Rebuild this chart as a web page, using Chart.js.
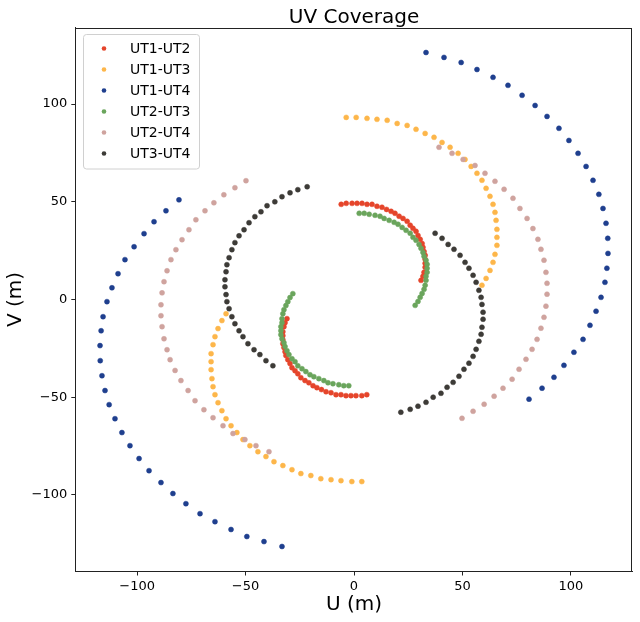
<!DOCTYPE html>
<html>
<head>
<meta charset="utf-8">
<script src="https://cdn.jsdelivr.net/npm/chart.js@4.4.0/dist/chart.umd.min.js"></script>
<style>
html,body{margin:0;padding:0;background:#fff;}
#wrap{width:640px;height:622px;}
</style>
</head>
<body>
<div id="wrap"><canvas id="c" width="640" height="622"></canvas></div>
<script>
const baselines = ['UT1-UT2','UT1-UT3','UT1-UT4','UT2-UT3','UT2-UT4','UT3-UT4'];
const colors = ['#e5452b','#fdb64a','#1f3f8e','#6aa55c','#cfa39e','#3d3b37'];

const u12 = [-5.9,-3.6,-0.9,1.4,3.7,6.0,8.3,10.6,12.9,15.0,17.1,18.9,20.8,22.6,24.5,25.9,27.2,28.6,29.5,30.5,31.4,31.8,32.3,32.8,32.8,32.8,32.8,32.3,31.8,30.9,
  5.9,3.6,0.9,-1.4,-3.7,-6.0,-8.3,-10.6,-12.9,-15.0,-17.1,-18.9,-20.8,-22.6,-24.5,-25.9,-27.2,-28.6,-29.5,-30.5,-31.4,-31.8,-32.3,-32.8,-32.8,-32.8,-32.8,-32.3,-31.8,-30.9];
const v12 = [48.7,49.2,49.2,49.2,49.2,48.7,48.7,47.7,47.2,46.1,45.1,44.1,42.6,41.5,40.0,38.0,36.4,34.9,32.8,30.8,28.7,26.7,24.6,22.6,20.6,18.5,16.5,13.9,11.9,9.8,
  -48.7,-49.2,-49.2,-49.2,-49.2,-48.7,-48.7,-47.7,-47.2,-46.1,-45.1,-44.1,-42.6,-41.5,-40.0,-38.0,-36.4,-34.9,-32.8,-30.8,-28.7,-26.7,-24.6,-22.6,-20.6,-18.5,-16.5,-13.9,-11.9,-9.8];

const u13 = [-3.6,1.0,6.0,10.6,15.3,19.9,24.5,28.6,32.8,36.9,40.6,44.3,48.0,51.2,54.0,56.7,59.0,60.9,62.7,64.1,65.0,65.5,65.9,65.9,65.9,65.0,64.1,62.7,60.9,59.0,
  3.6,-1.0,-6.0,-10.6,-15.3,-19.9,-24.5,-28.6,-32.8,-36.9,-40.6,-44.3,-48.0,-51.2,-54.0,-56.7,-59.0,-60.9,-62.7,-64.1,-65.0,-65.5,-65.9,-65.9,-65.9,-65.0,-64.1,-62.7,-60.9,-59.0];
const v13 = [93.2,93.2,92.7,92.2,91.7,90.1,89.1,87.1,85.0,83.0,80.4,77.9,74.8,71.7,68.1,64.6,61.0,56.9,52.8,48.7,44.6,40.5,35.9,31.8,27.7,23.1,19.0,14.9,10.8,7.3,
  -93.2,-93.2,-92.7,-92.2,-91.7,-90.1,-89.1,-87.1,-85.0,-83.0,-80.4,-77.9,-74.8,-71.7,-68.1,-64.6,-61.0,-56.9,-52.8,-48.7,-44.6,-40.5,-35.9,-31.8,-27.7,-23.1,-19.0,-14.9,-10.8,-7.3];

const u14 = [33.2,41.5,49.4,56.7,64.1,71.0,77.5,83.5,89.0,94.5,99.1,103.3,107.0,110.2,112.9,114.8,116.2,117.0,117.1,116.6,115.7,113.9,111.6,108.8,105.6,101.4,96.8,92.2,86.7,80.7,
  -33.2,-41.5,-49.4,-56.7,-64.1,-71.0,-77.5,-83.5,-89.0,-94.5,-99.1,-103.3,-107.0,-110.2,-112.9,-114.8,-116.2,-117.0,-117.1,-116.6,-115.7,-113.9,-111.6,-108.8,-105.6,-101.4,-96.8,-92.2,-86.7,-80.7];
const v14 = [126.4,123.9,121.3,117.7,113.7,109.6,104.5,99.3,93.7,87.6,81.4,74.8,68.1,61.0,53.8,46.6,39.0,31.3,23.6,16.0,8.8,1.1,-6.0,-13.2,-20.4,-27.0,-33.7,-39.8,-45.4,-51.0,
  -126.4,-123.9,-121.3,-117.7,-113.7,-109.6,-104.5,-99.3,-93.7,-87.6,-81.4,-74.8,-68.1,-61.0,-53.8,-46.6,-39.0,-31.3,-23.6,-16.0,-8.8,-1.1,6.0,13.2,20.4,27.0,33.7,39.8,45.4,51.0];

const u23 = [2.4,4.7,7.0,9.7,12.0,13.9,16.2,18.5,20.3,22.2,24.0,25.9,27.2,28.6,30.0,30.9,31.8,32.3,33.2,33.7,33.7,33.7,33.2,33.2,32.8,32.3,31.4,30.5,29.5,28.2,
  -2.4,-4.7,-7.0,-9.7,-12.0,-13.9,-16.2,-18.5,-20.3,-22.2,-24.0,-25.9,-27.2,-28.6,-30.0,-30.9,-31.8,-32.3,-33.2,-33.7,-33.7,-33.7,-33.2,-33.2,-32.8,-32.3,-31.4,-30.5,-29.5,-28.2];
const v23 = [44.1,44.1,43.6,43.1,42.6,41.5,40.5,39.5,38.5,36.9,35.4,33.9,31.8,30.3,28.2,26.2,24.1,22.1,20.1,18.0,16.0,13.9,11.9,9.8,7.3,5.2,3.1,1.1,-1.0,-3.0,
  -44.1,-44.1,-43.6,-43.1,-42.6,-41.5,-40.5,-39.5,-38.5,-36.9,-35.4,-33.9,-31.8,-30.3,-28.2,-26.2,-24.1,-22.1,-20.1,-18.0,-16.0,-13.9,-11.9,-9.8,-7.3,-5.2,-3.1,-1.1,1.0,3.0];

const u24 = [39.2,45.2,50.3,55.8,60.4,65.0,69.2,73.3,76.5,79.8,82.5,84.8,86.2,87.6,88.5,89.0,89.0,88.5,87.6,86.2,84.4,82.1,79.3,76.1,72.9,68.7,64.6,60.0,54.9,49.8,
  -39.2,-45.2,-50.3,-55.8,-60.4,-65.0,-69.2,-73.3,-76.5,-79.8,-82.5,-84.8,-86.2,-87.6,-88.5,-89.0,-89.0,-88.5,-87.6,-86.2,-84.4,-82.1,-79.3,-76.1,-72.9,-68.7,-64.6,-60.0,-54.9,-49.8];
const v24 = [77.9,74.8,71.7,68.6,64.6,60.5,56.4,51.8,46.6,41.5,36.3,30.8,25.7,20.1,13.9,8.3,2.7,-3.4,-9.1,-14.7,-20.4,-25.5,-30.6,-35.7,-40.8,-45.4,-49.5,-53.6,-57.2,-60.8,
  -77.9,-74.8,-71.7,-68.6,-64.6,-60.5,-56.4,-51.8,-46.6,-41.5,-36.3,-30.8,-25.7,-20.1,-13.9,-8.3,-2.7,3.4,9.1,14.7,20.4,25.5,30.6,35.7,40.8,45.4,49.5,53.6,57.2,60.8];

const u34 = [37.4,40.6,43.4,46.1,48.9,51.2,53.0,54.9,56.3,57.6,58.6,59.0,59.5,59.5,59.0,58.6,57.6,56.3,54.9,53.0,50.7,48.4,45.7,42.9,40.1,36.5,33.2,29.5,25.9,21.6,
  -37.4,-40.6,-43.4,-46.1,-48.9,-51.2,-53.0,-54.9,-56.3,-57.6,-58.6,-59.0,-59.5,-59.5,-59.0,-58.6,-57.6,-56.3,-54.9,-53.0,-50.7,-48.4,-45.7,-42.9,-40.1,-36.5,-33.2,-29.5,-25.9,-21.6];
const v34 = [33.9,31.3,28.2,25.7,22.6,19.0,16.0,12.4,8.8,4.7,1.1,-2.5,-6.5,-10.1,-14.2,-17.8,-21.4,-25.5,-29.1,-32.6,-35.7,-39.3,-42.4,-44.9,-48.0,-50.0,-52.6,-54.6,-56.2,-57.7,
  -33.9,-31.3,-28.2,-25.7,-22.6,-19.0,-16.0,-12.4,-8.8,-4.7,-1.1,2.5,6.5,10.1,14.2,17.8,21.4,25.5,29.1,32.6,35.7,39.3,42.4,44.9,48.0,50.0,52.6,54.6,56.2,57.7];

const xTicks = [-100,-50,0,50,100];
const yTicks = [-100,-50,0,50,100];
const titleText = 'UV Coverage';
const xLabel = 'U (m)';
const yLabel = 'V (m)';

const uArrs = [u12,u13,u14,u23,u24,u34];
const vArrs = [v12,v13,v14,v23,v24,v34];

const FONT = "'DejaVu Sans', sans-serif";

const datasets = baselines.map((name,i)=>({
  label: name,
  data: uArrs[i].map((u,k)=>({x:u, y:vArrs[i][k]})),
  backgroundColor: colors[i],
  borderColor: colors[i],
  pointRadius: 2.5,
  pointBorderWidth: 0.5,
  pointHoverRadius: 2.5,
  showLine: false,
  order: baselines.length - i
}));

const fmt = v => (v < 0 ? '\u2212' + Math.abs(v) : String(v));

const framePlugin = {
  id: 'frame',
  afterDraw(chart){
    const {ctx, chartArea:a} = chart;
    ctx.save();
    ctx.strokeStyle = '#222';
    ctx.lineWidth = 1;
    ctx.strokeRect(Math.round(a.left)+0.5, Math.round(a.top)+0.5, Math.round(a.right-a.left)-1, Math.round(a.bottom-a.top)-1);
    // title
    ctx.fillStyle = '#000';
    ctx.font = "20px " + FONT;
    ctx.textAlign = 'center';
    ctx.textBaseline = 'alphabetic';
    ctx.fillText(titleText, (a.left+a.right)/2, 23);
    // legend
    const bx = 83.5, by = 34.5, bw = 116, bh = 134.5, r = 3;
    ctx.beginPath();
    ctx.moveTo(bx+r, by);
    ctx.lineTo(bx+bw-r, by); ctx.arcTo(bx+bw, by, bx+bw, by+r, r);
    ctx.lineTo(bx+bw, by+bh-r); ctx.arcTo(bx+bw, by+bh, bx+bw-r, by+bh, r);
    ctx.lineTo(bx+r, by+bh); ctx.arcTo(bx, by+bh, bx, by+bh-r, r);
    ctx.lineTo(bx, by+r); ctx.arcTo(bx, by, bx+r, by, r);
    ctx.closePath();
    ctx.fillStyle = 'rgba(255,255,255,0.85)';
    ctx.fill();
    ctx.strokeStyle = '#d0d0d0';
    ctx.lineWidth = 1;
    ctx.stroke();
    ctx.font = "14px " + FONT;
    ctx.textAlign = 'left';
    ctx.textBaseline = 'middle';
    chart.data.datasets.forEach((ds,i)=>{
      const y = 48.5 + i*21;
      ctx.beginPath();
      ctx.arc(104, y, 2.3, 0, Math.PI*2);
      ctx.fillStyle = ds.backgroundColor;
      ctx.fill();
      ctx.fillStyle = '#000';
      ctx.fillText(ds.label, 130, y+1);
    });
    ctx.restore();
  }
};

new Chart(document.getElementById('c'), {
  type: 'scatter',
  data: { datasets },
  options: {
    responsive: false,
    animation: false,
    events: [],
    layout: { padding: { left: 0, right: 7.3, top: 27.5, bottom: 0 } },
    plugins: { legend: { display: false }, tooltip: { enabled: false }, title: { display: false } },
    scales: {
      x: {
        type: 'linear', min: -128.5, max: 128.5,
        afterBuildTicks: s => { s.ticks = xTicks.map(v=>({value:v})); },
        afterFit: s => { s.height = 50.5; },
        grid: { drawOnChartArea: false, drawTicks: true, tickLength: 4, color: '#222' },
        border: { display: true, color: '#222', width: 1 },
        ticks: { color: '#000', font: { family: FONT, size: 13 }, padding: 3, maxRotation: 0, callback: v => fmt(v) },
        title: { display: true, text: xLabel, color: '#000', font: { family: FONT, size: 20 }, padding: { top: 0, bottom: 5 } }
      },
      y: {
        type: 'linear', min: -139.2, max: 139.2,
        afterBuildTicks: s => { s.ticks = yTicks.map(v=>({value:v})); },
        afterFit: s => { s.width = 75.3; },
        grid: { drawOnChartArea: false, drawTicks: true, tickLength: 4, color: '#222' },
        border: { display: true, color: '#222', width: 1 },
        ticks: { color: '#000', font: { family: FONT, size: 13 }, padding: 4, callback: v => fmt(v) },
        title: { display: true, text: yLabel, color: '#000', font: { family: FONT, size: 20 }, padding: { top: 4, bottom: 0 } }
      }
    }
  },
  plugins: [framePlugin]
});
</script>
</body>
</html>
